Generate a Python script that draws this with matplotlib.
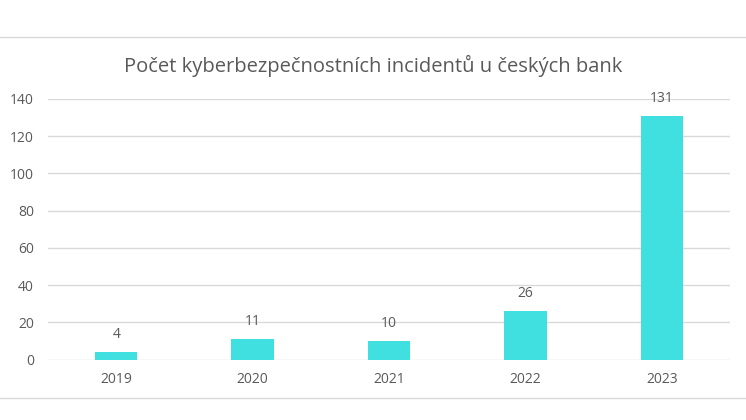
import matplotlib
matplotlib.use("Agg")
import matplotlib.pyplot as plt
from matplotlib.lines import Line2D

years = ["2019", "2020", "2021", "2022", "2023"]
incidents = [4, 11, 10, 26, 131]
yticks = [0, 20, 40, 60, 80, 100, 120, 140]
title = "Počet kyberbezpečnostních incidentů u českých bank"

plt.rcParams['font.family'] = ['Open Sans', 'DejaVu Sans']
text_color = "#595959"
grid_color = "#d9d9d9"
bar_color = "#40e0e0"

fig = plt.figure(figsize=(7.46, 4.2), dpi=100)
ax = fig.add_axes([48/746, (420-359.5)/420, (730-48)/746, (359.5-99)/420])

x = range(len(years))
ax.bar(x, incidents, width=0.31, color=bar_color, zorder=3)
ax.set_xlim(-0.5, len(years) - 0.5)
ax.set_ylim(0, 140)
ax.set_yticks(yticks)
ax.set_xticks(list(x))
ax.set_xticklabels(years)
ax.yaxis.grid(True, color=grid_color, linewidth=1, zorder=0)
for s in ax.spines.values():
    s.set_visible(False)
ax.tick_params(axis='both', length=0, colors=text_color, labelsize=10)
ax.tick_params(axis='x', pad=9)
ax.tick_params(axis='y', pad=10)
for lbl in ax.get_yticklabels() + ax.get_xticklabels():
    lbl.set_color(text_color)

for xi, v in zip(x, incidents):
    ax.annotate(str(v), (xi, v), xytext=(0, 7), textcoords='offset points',
                ha='center', va='bottom', fontsize=10, color=text_color)

fig.text(0.5, (420-66)/420, title, ha='center', va='center', fontsize=14.5, color=text_color)

fig.add_artist(Line2D([0, 1], [(420-37)/420]*2, transform=fig.transFigure, color=grid_color, linewidth=1))
fig.add_artist(Line2D([0, 1], [(420-398)/420]*2, transform=fig.transFigure, color=grid_color, linewidth=1))

fig.savefig("out.png", dpi=100)
